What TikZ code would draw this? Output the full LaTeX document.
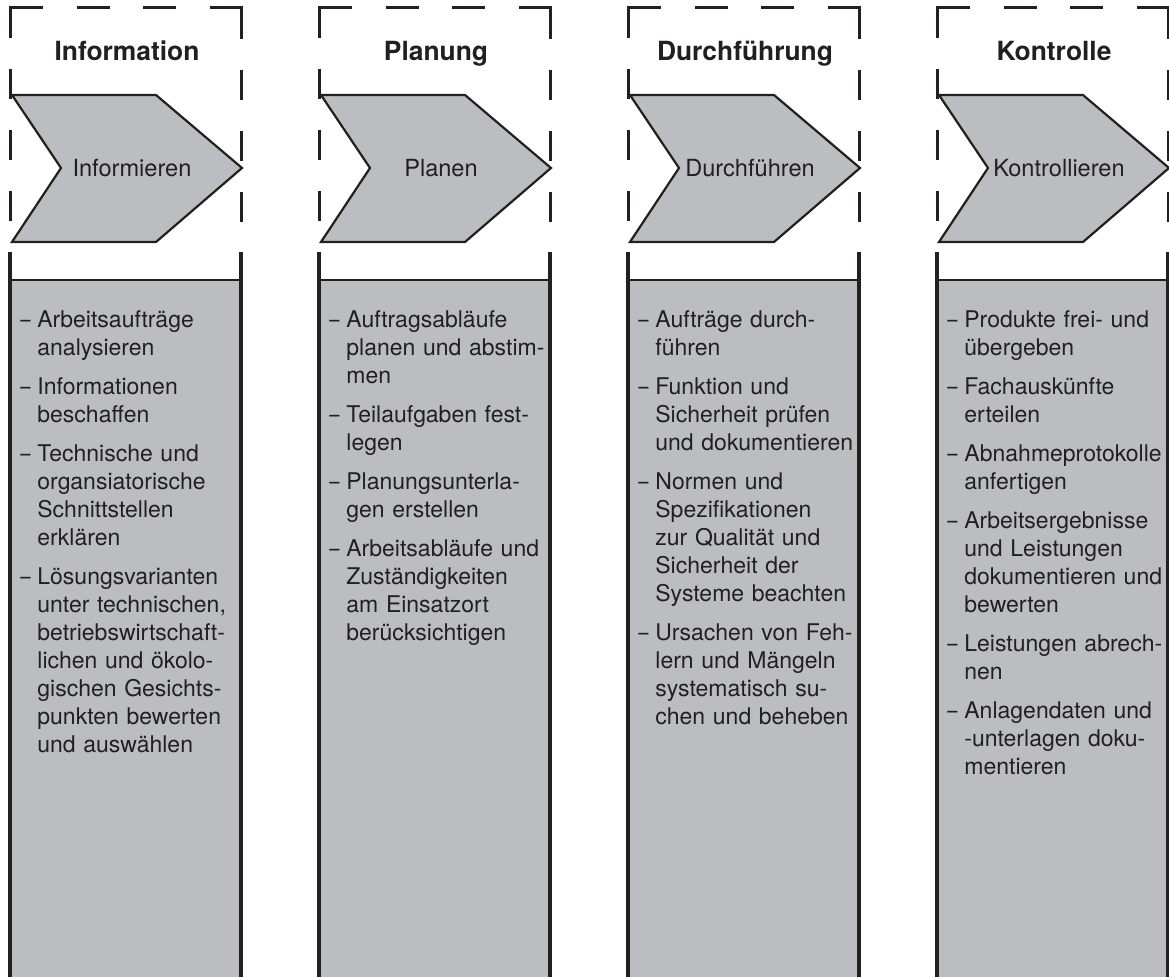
\documentclass[tikz,border=0pt]{standalone}
\usepackage{fontspec}
\setmainfont{TeX Gyre Heros}
\definecolor{feld}{HTML}{BCBDC1}
\definecolor{schrift}{HTML}{231F20}
\newcommand\punkt[1]{\par\hangindent=8.5pt\hangafter=1\noindent\makebox[8.5pt][l]{\strut\scalebox{0.8}[1]{–}}#1\par}

\begin{document}
\begin{tikzpicture}[x=0.5pt,y=-0.5pt,
    rahmen/.style={line width=1.5pt, draw=schrift,
      dash pattern=on 0pt off 15.5pt on 15pt off 15.5pt on 15pt off 15.5pt on 15pt off 15.5pt on 31.5pt off 16.75pt on 16.5pt off 16.75pt on 16.5pt off 16.75pt on 31.5pt off 15.5pt on 15pt off 15.5pt on 15pt off 15.5pt on 15pt off 15.5pt},
    seite/.style={line width=1.6pt, draw=schrift},
    pfeil/.style={draw=schrift, fill=feld, line width=1.1pt, line join=miter},
    titel/.style={anchor=base, inner sep=0pt, text=schrift, font=\fontsize{13.2}{16}\selectfont\bfseries},
    pfeiltext/.style={anchor=base, inner sep=0pt, text=schrift, font=\fontsize{11.8}{14}\selectfont},
    liste/.style={anchor=north west, inner sep=0pt, text width=120pt, align=left, text=schrift,
      font=\fontsize{11.5}{14}\selectfont, execute at begin node={\setlength{\parskip}{5.5pt}}}]

    \useasboundingbox (0,0) rectangle (1169,977);

    \foreach \x/\kopf/\taetigkeit [count=\i] in {10/Information/Informieren, 319/Planung/Planen,
        628/Durchführung/Durchführen, 937/Kontrolle/Kontrollieren}{
        % Feld unten
        \fill[feld] (\x,280) rectangle (\x+231,985);
        \draw[seite] (\x,985) -- (\x,252) (\x+231,252) -- (\x+231,985);
        \draw[line width=1.2pt, schrift] (\x,280) -- (\x+231,280);
        % gestrichelter Rahmen
        \draw[rahmen] (\x,252) -- (\x,8) -- (\x+231,8) -- (\x+231,252);
        % Pfeil
        \draw[pfeil] (\x+2,95) -- (\x+146,95) -- (\x+232,168) -- (\x+146,242) -- (\x+2,242) -- (\x+51,168) -- cycle;
        \node[titel] (titel\i) at (\x+117,61) {\kopf};
        \node[pfeiltext] (schritt\i) at (\x+122,177) {\taetigkeit};
    }

    \node[liste] (liste1) at (20,288.4) {%
        \punkt{Arbeitsaufträge\newline analysieren}
        \punkt{Informationen\newline beschaffen}
        \punkt{Technische und\newline organsiatorische\newline Schnittstellen\newline erklären}
        \punkt{Lösungsvarianten\newline unter technischen,\newline betriebswirtschaft-\newline lichen und ökolo-\newline gischen Gesichts-\newline punkten bewerten\newline und auswählen}};

    \node[liste] (liste2) at (329,288.4) {%
        \punkt{Auftragsabläufe\newline planen und abstim-\newline men}
        \punkt{Teilaufgaben fest-\newline legen}
        \punkt{Planungsunterla-\newline gen erstellen}
        \punkt{Arbeitsabläufe und\newline Zuständigkeiten\newline am Einsatzort\newline berücksichtigen}};

    \node[liste] (liste3) at (638,288.4) {%
        \punkt{Aufträge durch-\newline führen}
        \punkt{Funktion und\newline Sicherheit prüfen\newline und dokumentieren}
        \punkt{Normen und\newline Spezifikationen\newline zur Qualität und\newline Sicherheit der\newline Systeme beachten}
        \punkt{Ursachen von Feh-\newline lern und Mängeln\newline systematisch su-\newline chen und beheben}};

    \node[liste] (liste4) at (947,288.4) {%
        \punkt{Produkte frei- und\newline übergeben}
        \punkt{Fachauskünfte\newline erteilen}
        \punkt{Abnahmeprotokolle\newline anfertigen}
        \punkt{Arbeitsergebnisse\newline und Leistungen\newline dokumentieren und\newline bewerten}
        \punkt{Leistungen abrech-\newline nen}
        \punkt{Anlagendaten und\newline -unterlagen doku-\newline mentieren}};
\end{tikzpicture}
\end{document}
